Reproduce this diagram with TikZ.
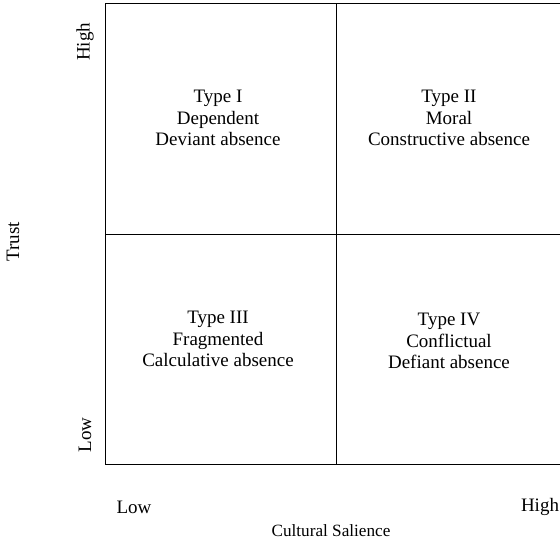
\documentclass[tikz,border=0pt]{standalone}
\usepackage{fontspec}
\setmainfont{Liberation Serif}
\begin{document}
\begin{tikzpicture}[x=1pt,y=-1pt,
	quad/.style={align=center,font=\fontsize{19}{21.5}\selectfont},
	lab/.style={font=\fontsize{19}{22}\selectfont}]
	\useasboundingbox (0,0) rectangle (560,543);
	%% matrix frame
	\draw[line width=1pt] (105,4) rectangle (567,464);
	\draw[line width=1pt] (336,4) -- (336,464);
	\draw[line width=1pt] (105,234) -- (567,234);
	%% quadrants
	\node[quad] (typeI) at (218,118) {Type I\\Dependent\\Deviant absence};
	\node[quad] (typeII) at (449,118) {Type II\\Moral\\Constructive absence};
	\node[quad] (typeIII) at (218,339) {Type III\\Fragmented\\Calculative absence};
	\node[quad] (typeIV) at (449,341) {Type IV\\Conflictual\\Defiant absence};
	%% axes labels
	\node[lab,rotate=90] (yhigh) at (85,42) {High};
	\node[lab,rotate=90] (ylow) at (85,435) {Low};
	\node[lab,rotate=90] (trust) at (13,242) {Trust};
	\node[lab] (xlow) at (134,507) {Low};
	\node[lab] (xhigh) at (540,507) {High};
	\node[lab,font=\fontsize{17.2}{20}\selectfont] (salience) at (331,531) {Cultural Salience};
\end{tikzpicture}
\end{document}
